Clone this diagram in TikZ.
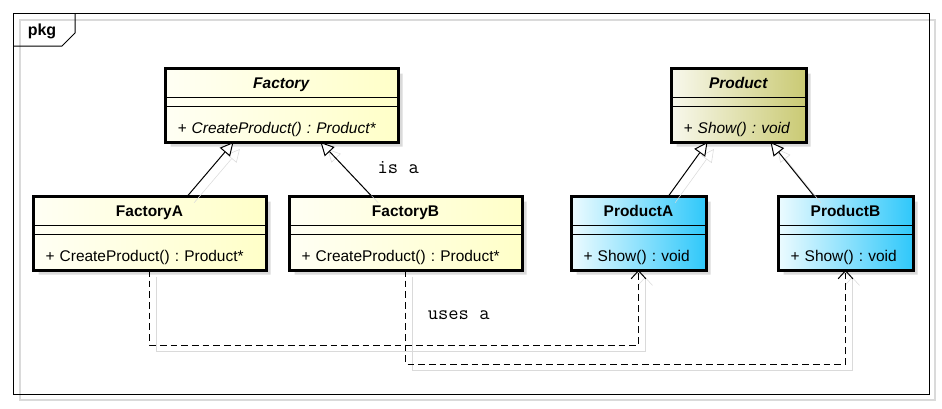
\documentclass[tikz,border=0pt]{standalone}
\usepackage{fontspec}
\setmainfont{Liberation Sans}
\usepackage{tikz}
\usetikzlibrary{shapes,shadows,positioning,arrows.meta}
\definecolor{shadowgray}{HTML}{DADADA}
\definecolor{factorystart}{HTML}{FFFFF4}
\definecolor{factoryend}{HTML}{FFFFC8}
\definecolor{abstractstart}{HTML}{F8F8EC}
\definecolor{abstractend}{HTML}{CACA74}
\definecolor{productstart}{HTML}{ECFBFF}
\definecolor{productend}{HTML}{30C8FA}
\newcommand{\titlestrut}{\rule[-6.75pt]{0pt}{21pt}}
\newcommand{\emptystrut}{\rule{0pt}{6pt}}
\newcommand{\opstrut}{\rule[-6pt]{0pt}{25.5pt}}
\tikzset{
	class/.style = {
		draw, line width=0.75pt, rectangle split, rectangle split parts=3,
		anchor=north west, inner xsep=9pt, inner ysep=0pt,
		text width=156pt, align=center, font=\fontsize{11.6}{13}\selectfont\frenchspacing,
		drop shadow={shadow xshift=3.75pt, shadow yshift=-3.75pt, fill=shadowgray, opacity=1}
	}
}
\tikzset{
	small class/.style = {
		class, text width=82.5pt
	}
}
\tikzset{
	factory/.style = {left color=factorystart, right color=factoryend},
	abstract/.style = {left color=abstractstart, right color=abstractend},
	product/.style = {left color=productstart, right color=productend}
}
\tikzset{
	conshadow/.style = {
		preaction={draw=shadowgray, solid, transform canvas={shift={(5pt,-5pt)}}}
	}
}
\tikzset{
	generalization/.style = {
		line width=0.75pt, conshadow, -{Triangle[length=10pt, width=10pt, fill=white]}
	}
}
\tikzset{
	dependency/.style = {
		line width=0.75pt, conshadow, dashed, dash pattern=on 5pt off 3pt,
		-{Straight Barb[length=6pt, width=11pt]}
	}
}
\tikzset{
	relname/.style = {
		font=\fontsize{15}{15}\ttfamily
	}
}

\begin{document}
\begin{tikzpicture}[x=0.75pt, y=-0.75pt]
	\useasboundingbox (0,0) rectangle (942,408);
	% package frame
	\draw[shadowgray, line width=1.1pt] (20,20) rectangle (935,400);
	\draw[line width=0.75pt] (13,13) rectangle (929,394);
	\draw[line width=0.75pt] (13,46) -- (62,46) -- (75,33) -- (75,13);
	\node[font=\fontsize{12}{12}\bfseries\selectfont] (pkg) at (42,31) {pkg};

	\node[class, factory](Factory) at (165,68){\textbf{\textit{Factory}}\titlestrut
		\nodepart{two}\emptystrut
		\nodepart[align=left]{three}
			\textit{+ CreateProduct() : Product*}\opstrut};
	\node[class, factory](FactoryA) at (33,196){\textbf{FactoryA}\titlestrut
		\nodepart{two}\emptystrut
		\nodepart[align=left]{three}
			+ CreateProduct() : Product*\opstrut};
	\node[class, factory, right=17.25pt of FactoryA](FactoryB){\textbf{FactoryB}\titlestrut
		\nodepart{two}\emptystrut
		\nodepart[align=left]{three}
			+ CreateProduct() : Product*\opstrut};
	\node[small class, abstract](Product) at (671,68){\textbf{\textit{Product}}\titlestrut
		\nodepart{two}\emptystrut
		\nodepart[align=left]{three}
			\textit{+ Show() : void}\opstrut};
	\node[small class, product](ProductA) at (571,196){\textbf{ProductA}\titlestrut
		\nodepart{two}\emptystrut
		\nodepart[align=left]{three}
			+ Show() : void\opstrut};
	\node[small class, product, right=54pt of ProductA](ProductB){\textbf{ProductB}\titlestrut
		\nodepart{two}\emptystrut
		\nodepart[align=left]{three}
			+ Show() : void\opstrut};
	\foreach \c in {Factory,FactoryA,FactoryB,Product,ProductA,ProductB}
		\draw[line width=2.25pt] (\c.north west) rectangle (\c.south east);

	\draw[generalization] ([xshift=28.5pt]FactoryA.north) -- ([xshift=-36pt]Factory.south);
	\draw[generalization] ([xshift=-25.5pt]FactoryB.north) -- node[relname, right=20pt, yshift=1pt] {is a} ([xshift=29.25pt]Factory.south);
	\draw[generalization] ([xshift=22.5pt]ProductA.north) -- ([xshift=-23.25pt]Product.south);
	\draw[generalization] ([xshift=-23.6pt]ProductB.north) -- ([xshift=24pt]Product.south);

	\draw[dependency] (FactoryA.south) -- ++(0,75) -| (ProductA.south);
	\draw[dependency] (FactoryB.south) -- node[relname, pos=0.45, right=13pt, yshift=-2pt] {uses a} ++(0,94) -| (ProductB.south);
\end{tikzpicture}
\end{document}
